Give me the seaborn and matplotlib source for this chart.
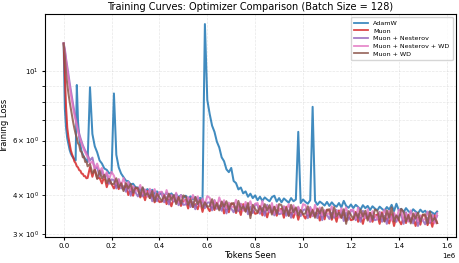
import numpy as np
import pandas as pd
import matplotlib
matplotlib.use("Agg")
import matplotlib.pyplot as plt
import seaborn as sns

# logging steps (thousands of tokens): every 5k for the first 100k, then every 10k
tokens_k = list(range(0, 101, 5)) + list(range(110, 1561, 10))

optimizers = ["AdamW", "Muon", "Muon + Nesterov", "Muon + Nesterov + WD", "Muon + WD"]

adamw_loss = [
    12.3, 7.6, 6.6, 6.1, 5.85, 5.6, 5.45, 5.35, 5.28, 5.22, 5.18,
    9.05, 6.9, 6.15, 5.8, 5.52, 5.42, 5.3, 5.24, 5.16, 5.12,
    8.9, 6.3, 5.75, 5.5, 5.18, 5.06, 4.88, 4.83, 4.71, 4.72,
    8.5, 5.4, 4.92, 4.7, 4.58, 4.46, 4.44, 4.34, 4.36, 4.25,
    4.24, 4.16, 4.22, 4.13, 4.19, 4.10, 4.17, 4.06, 4.12, 4.03,
    4.09, 3.99, 4.08, 3.97, 4.06, 3.96, 4.04, 3.94, 4.01, 3.92,
    3.99, 3.90, 3.97, 3.88, 3.95, 3.86, 3.93, 3.85,
    14.2,
    8.1, 7.3, 6.7, 6.4, 5.95, 5.7, 5.3, 5.15, 4.85, 4.75,
    4.9, 4.45, 4.38, 4.18, 4.24, 4.06, 4.12, 3.96, 4.05, 3.92, 4.0,
    3.86, 3.96, 3.84, 3.94, 3.88, 3.83, 3.95, 3.99, 3.82, 3.92,
    3.80, 3.91, 3.85, 3.79, 3.92, 3.83, 3.88,
    6.4,
    3.78, 3.88, 3.81, 3.76, 3.86,
    7.7,
    3.84, 3.73, 3.82, 3.77, 3.71, 3.81,
    3.70, 3.80, 3.72, 3.68, 3.78, 3.66, 3.84, 3.70, 3.65, 3.74,
    3.64, 3.73, 3.67, 3.60, 3.72, 3.64, 3.70, 3.59, 3.69, 3.63,
    3.58, 3.68, 3.62, 3.57, 3.67, 3.60, 3.73, 3.56, 3.76, 3.58,
    3.62, 3.53, 3.64, 3.56, 3.51, 3.61, 3.55, 3.50, 3.60, 3.53,
    3.57, 3.49, 3.56, 3.52, 3.48, 3.55,
]

muon_loss = [
    12.3, 9.8, 7.7, 6.6, 6.15, 5.85, 5.58, 5.42, 5.30, 5.14, 5.08,
    4.96, 4.92, 4.82, 4.80, 4.70, 4.69, 4.61, 4.61, 4.54, 4.55,
    4.93, 4.59, 4.87, 4.53, 4.56, 4.37, 4.61, 4.25, 4.50, 4.35,
    4.21, 4.37, 4.19, 4.39, 4.18, 4.31, 4.01, 4.21, 3.99, 4.24,
    4.18, 3.94, 4.08, 3.86, 4.13, 3.92, 4.03, 3.80, 3.93, 3.81,
    3.82, 4.01, 3.75, 3.89, 3.69, 3.93, 3.79, 3.94, 3.70, 3.85,
    3.86, 3.63, 3.91, 3.67, 3.75, 3.61, 3.83, 3.54, 3.78, 3.67,
    3.56, 3.73, 3.59, 3.79, 3.62, 3.76, 3.50, 3.70, 3.53, 3.77,
    3.74, 3.51, 3.67, 3.46, 3.75, 3.55, 3.68, 3.46, 3.61, 3.49,
    3.51, 3.70, 3.45, 3.59, 3.40, 3.64, 3.51, 3.67, 3.44, 3.60,
    3.62, 3.39, 3.68, 3.44, 3.53, 3.39, 3.62, 3.34, 3.57, 3.47,
    3.37, 3.53, 3.40, 3.60, 3.43, 3.57, 3.32, 3.53, 3.35, 3.60,
    3.57, 3.34, 3.50, 3.29, 3.58, 3.39, 3.51, 3.30, 3.44, 3.33,
    3.35, 3.54, 3.29, 3.44, 3.24, 3.49, 3.36, 3.51, 3.29, 3.45,
    3.47, 3.24, 3.53, 3.30, 3.38, 3.25, 3.48, 3.19, 3.43, 3.33,
    3.23, 3.39, 3.26, 3.47, 3.29, 3.44, 3.19, 3.39, 3.22, 3.47,
    3.44, 3.21, 3.37, 3.17, 3.45, 3.26,
]

muon_nesterov_loss = [
    12.3, 11.8, 11.0, 10.4, 9.8, 9.2, 8.7, 8.25, 7.8, 7.42, 7.1,
    6.82, 6.55, 6.32, 6.12, 5.95, 5.8, 5.68, 5.57, 5.48, 5.4,
    5.18, 5.29, 4.87, 4.93, 4.60, 4.80, 4.56, 4.69, 4.36, 4.50,
    4.48, 4.21, 4.50, 4.21, 4.28, 4.11, 4.33, 3.99, 4.23, 4.09,
    3.97, 4.12, 3.97, 4.16, 3.97, 4.10, 3.83, 4.02, 3.83, 4.07,
    4.03, 3.80, 3.95, 3.74, 4.02, 3.82, 3.94, 3.72, 3.85, 3.73,
    3.74, 3.93, 3.67, 3.81, 3.61, 3.85, 3.71, 3.86, 3.64, 3.79,
    3.80, 3.58, 3.86, 3.62, 3.71, 3.57, 3.79, 3.50, 3.74, 3.63,
    3.53, 3.69, 3.56, 3.76, 3.59, 3.73, 3.48, 3.68, 3.51, 3.75,
    3.72, 3.49, 3.65, 3.44, 3.73, 3.53, 3.66, 3.45, 3.59, 3.48,
    3.50, 3.69, 3.44, 3.58, 3.39, 3.63, 3.50, 3.66, 3.43, 3.59,
    3.61, 3.38, 3.67, 3.43, 3.52, 3.38, 3.61, 3.33, 3.56, 3.46,
    3.36, 3.52, 3.39, 3.59, 3.42, 3.57, 3.31, 3.52, 3.34, 3.59,
    3.56, 3.33, 3.49, 3.29, 3.57, 3.38, 3.51, 3.29, 3.44, 3.33,
    3.35, 3.54, 3.29, 3.44, 3.24, 3.49, 3.36, 3.51, 3.29, 3.45,
    3.47, 3.24, 3.53, 3.30, 3.38, 3.25, 3.48, 3.19, 3.43, 3.33,
    3.23, 3.39, 3.26, 3.47, 3.29, 3.44,
]

muon_nesterov_wd_loss = [
    12.3, 11.6, 10.8, 10.1, 9.5, 8.95, 8.45, 8.0, 7.6, 7.25, 6.95,
    6.68, 6.42, 6.2, 6.02, 5.86, 5.72, 5.6, 5.5, 5.4, 5.32,
    5.06, 5.14, 4.88, 5.06, 4.78, 4.90, 4.55, 4.75, 4.50, 4.76,
    4.63, 4.36, 4.51, 4.26, 4.55, 4.31, 4.42, 4.16, 4.29, 4.14,
    4.14, 4.32, 4.05, 4.18, 3.97, 4.20, 4.05, 4.19, 3.95, 4.10,
    4.11, 3.88, 4.16, 3.92, 4.00, 3.86, 4.08, 3.79, 4.01, 3.90,
    3.79, 3.95, 3.81, 4.01, 3.83, 3.97, 3.71, 3.91, 3.74, 3.98,
    3.93, 3.71, 3.86, 3.65, 3.94, 3.74, 3.86, 3.64, 3.79, 3.67,
    3.68, 3.87, 3.62, 3.76, 3.57, 3.81, 3.68, 3.83, 3.61, 3.76,
    3.78, 3.55, 3.84, 3.60, 3.69, 3.55, 3.78, 3.50, 3.73, 3.63,
    3.52, 3.68, 3.55, 3.75, 3.58, 3.72, 3.47, 3.68, 3.50, 3.75,
    3.72, 3.49, 3.65, 3.44, 3.73, 3.53, 3.66, 3.45, 3.59, 3.48,
    3.50, 3.69, 3.44, 3.58, 3.39, 3.64, 3.50, 3.66, 3.43, 3.59,
    3.60, 3.37, 3.66, 3.43, 3.51, 3.38, 3.61, 3.32, 3.56, 3.46,
    3.36, 3.52, 3.39, 3.60, 3.42, 3.57, 3.32, 3.52, 3.35, 3.60,
    3.57, 3.34, 3.50, 3.30, 3.58, 3.39, 3.52, 3.30, 3.45, 3.34,
    3.36, 3.55, 3.30, 3.45, 3.25, 3.50,
]

muon_wd_loss = [
    12.3, 11.2, 9.9, 9.1, 8.5, 8.0, 7.6, 7.2, 6.85, 6.55, 6.3,
    6.12, 5.88, 5.80, 5.55, 5.52, 5.30, 5.33, 5.12, 5.14, 4.96,
    5.04, 4.71, 4.83, 4.52, 4.80, 4.53, 4.66, 4.38, 4.52, 4.35,
    4.35, 4.54, 4.24, 4.37, 4.13, 4.38, 4.21, 4.35, 4.08, 4.23,
    4.22, 3.98, 4.25, 4.00, 4.07, 3.92, 4.13, 3.83, 4.05, 3.94,
    3.83, 3.99, 3.85, 4.05, 3.87, 4.01, 3.75, 3.95, 3.76, 4.00,
    3.96, 3.73, 3.88, 3.67, 3.95, 3.75, 3.87, 3.65, 3.80, 3.68,
    3.69, 3.89, 3.63, 3.77, 3.58, 3.82, 3.68, 3.83, 3.61, 3.76,
    3.78, 3.55, 3.84, 3.60, 3.69, 3.55, 3.78, 3.38, 3.73, 3.62,
    3.52, 3.68, 3.55, 3.75, 3.58, 3.72, 3.47, 3.68, 3.50, 3.75,
    3.72, 3.49, 3.65, 3.44, 3.73, 3.53, 3.66, 3.45, 3.59, 3.48,
    3.50, 3.69, 3.44, 3.58, 3.39, 3.63, 3.50, 3.66, 3.43, 3.59,
    3.61, 3.38, 3.67, 3.43, 3.52, 3.39, 3.61, 3.24, 3.56, 3.46,
    3.36, 3.52, 3.39, 3.60, 3.42, 3.57, 3.32, 3.52, 3.35, 3.60,
    3.57, 3.34, 3.50, 3.30, 3.58, 3.39, 3.66, 3.30, 3.45, 3.34,
    3.62, 3.55, 3.30, 3.45, 3.25, 3.50, 3.37, 3.52, 3.30, 3.46,
    3.48, 3.25, 3.54, 3.31, 3.39, 3.26,
]

colors = ["tab:blue", "tab:red", "tab:purple", "tab:pink", "tab:brown"]

series = [adamw_loss, muon_loss, muon_nesterov_loss, muon_nesterov_wd_loss, muon_wd_loss]
for name, vals in zip(optimizers, series):
    if len(vals) != len(tokens_k):
        raise ValueError(f"{name}: {len(vals)} values, expected {len(tokens_k)}")

# long format table for seaborn
frames = []
for name, vals in zip(optimizers, series):
    frames.append(pd.DataFrame({
        "Tokens Seen": np.array(tokens_k) * 1000,
        "Training Loss": vals,
        "Optimizer": name,
    }))
df = pd.concat(frames, ignore_index=True)

fig, ax = plt.subplots(figsize=(4.59, 2.63), dpi=100)
sns.lineplot(data=df, x="Tokens Seen", y="Training Loss", hue="Optimizer",
             hue_order=optimizers, palette=dict(zip(optimizers, colors)),
             linewidth=1.45, alpha=0.85, errorbar=None, ax=ax)

ax.set_yscale("log")
ax.set_title("Training Curves: Optimizer Comparison (Batch Size = 128)", fontsize=7, pad=3)
ax.set_xlabel("Tokens Seen", fontsize=6, labelpad=1)
ax.set_ylabel("Training Loss", fontsize=6, labelpad=2)
ax.tick_params(axis="both", which="both", labelsize=5, length=2.5, pad=2)
ax.xaxis.get_offset_text().set_fontsize(5)
ax.grid(True, which="both", linestyle="--", linewidth=0.5, alpha=0.3)

leg = ax.legend(loc="upper right", fontsize=4.6, frameon=True, handlelength=2.2,
                borderpad=0.5, labelspacing=0.35)
for line in leg.get_lines():
    line.set_linewidth(1.3)

fig.subplots_adjust(left=0.098, right=0.993, top=0.947, bottom=0.099)
fig.savefig("out.png", dpi=100)
